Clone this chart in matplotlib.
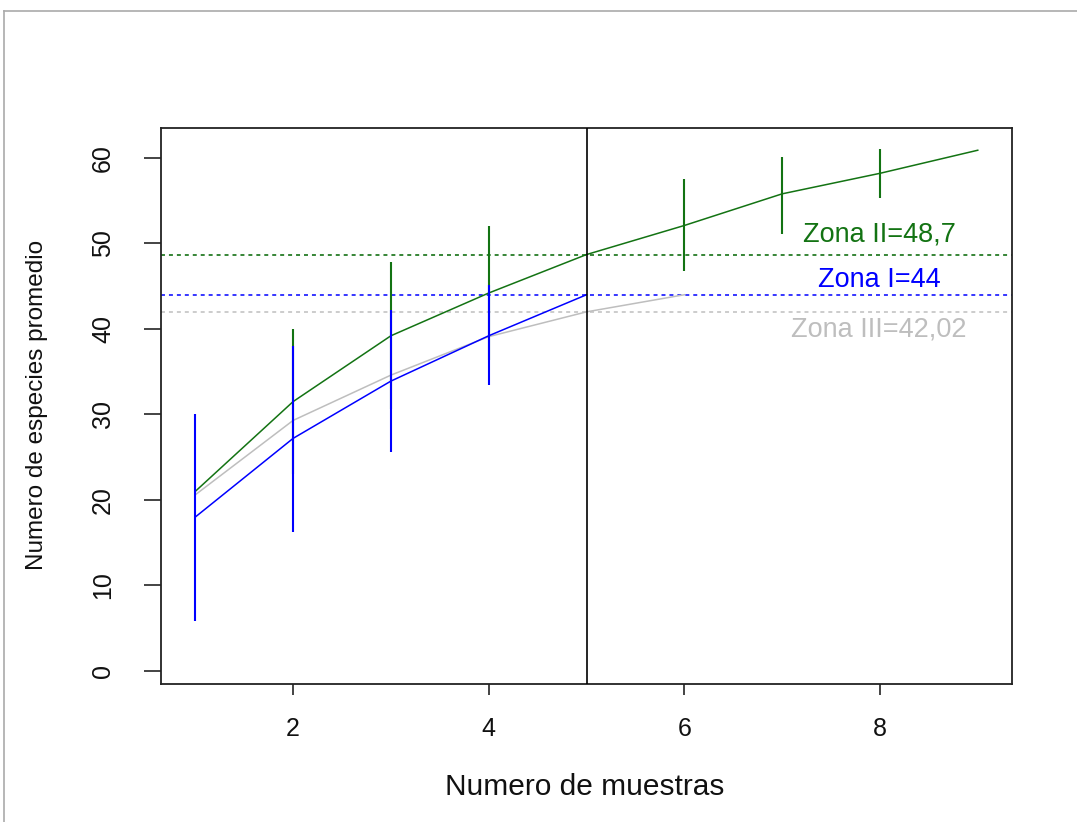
import matplotlib
matplotlib.use("Agg")
import matplotlib.pyplot as plt
from matplotlib.lines import Line2D

plt.rcParams['font.family'] = ['Liberation Sans', 'DejaVu Sans']

# ---- data ----
muestras = [1, 2, 3, 4, 5, 6, 7, 8, 9]
zona2_media = [21.0, 31.5, 39.2, 44.2, 48.7, 52.1, 55.8, 58.2, 60.9]
zona2_x_err = [2, 3, 4, 6, 7, 8]
zona2_sup = [40.0, 47.8, 52.0, 57.5, 60.1, 61.1]
zona2_inf = [23.0, 30.6, 36.4, 46.8, 51.1, 55.3]

zona1_x = [1, 2, 3, 4, 5]
zona1_media = [18.0, 27.2, 33.9, 39.2, 44.0]
zona1_x_err = [1, 2, 3, 4]
zona1_sup = [30.0, 38.0, 42.2, 45.1]
zona1_inf = [5.9, 16.2, 25.6, 33.5]

zona3_x = [1, 2, 3, 4, 5, 6]
zona3_media = [20.6, 29.3, 34.6, 39.1, 42.0, 44.0]

promedios = [48.7, 44.0, 42.02]
etiquetas = ["Zona II=48,7", "Zona I=44", "Zona III=42,02"]
x_corte = 5

verde = "#137313"
azul = "#0000ff"
gris = "#bebebe"

fig = plt.figure(figsize=(10.77, 8.22), dpi=100)
ax = fig.add_axes([161/1077, 1-684/822, (1012-161)/1077, (684-128)/822])

ax.plot(muestras, zona2_media, color=verde, lw=1.1, zorder=3)
ax.plot(zona3_x, zona3_media, color=gris, lw=1.1, zorder=3)
ax.plot(zona1_x, zona1_media, color=azul, lw=1.1, zorder=3)

ax.vlines(zona2_x_err, zona2_inf, zona2_sup, color=verde, lw=1.5, zorder=4)
ax.vlines(zona1_x_err, zona1_inf, zona1_sup, color=azul, lw=1.5, zorder=5)

for val, col in zip(promedios, ["#006400", azul, gris]):
    ax.axhline(val, color=col, lw=1.1, ls=(0, (2.6, 2.6)), zorder=2)
ax.axvline(x_corte, color="black", lw=1.2, zorder=6)

text_pos = [50.2, 44.9, 39.06]
for lab, yy, col in zip(etiquetas, text_pos, [verde, azul, gris]):
    ax.text(7.99, yy, lab, color=col, fontsize=19.5, ha='center', va='baseline')

ax.set_xlim(0.65, 9.35)
ax.set_ylim(-1.52, 63.5)
ax.set_xticks([2, 4, 6, 8])
ax.set_yticks([0, 10, 20, 30, 40, 50, 60])
ax.tick_params(axis='x', direction='out', length=8, width=1.1, pad=16, labelsize=18, colors='#111111')
ax.tick_params(axis='y', direction='out', length=12, width=1.1, pad=21, labelsize=18, colors='#111111')
for lab in ax.get_yticklabels():
    lab.set_rotation(90)
    lab.set_va('center')
for s in ax.spines.values():
    s.set_linewidth(1.3)
    s.set_color('#222222')

ax.set_xlabel("Numero de muestras", fontsize=21.5, color='#111111', va='baseline')
ax.xaxis.set_label_coords((584.5-161)/851, (684-795)/556)
ax.set_ylabel("Numero de especies promedio", fontsize=17.5, color='#111111', va='center')
ax.yaxis.set_label_coords((37-161)/851, (684-405)/556)

# outer image frame
fig.add_artist(Line2D([4/1077, 1], [1-11/822, 1-11/822], color='#aaaaaa', lw=1.2))
fig.add_artist(Line2D([4/1077, 4/1077], [0, 1-11/822], color='#aaaaaa', lw=1.2))

fig.savefig("out.png", dpi=100)
